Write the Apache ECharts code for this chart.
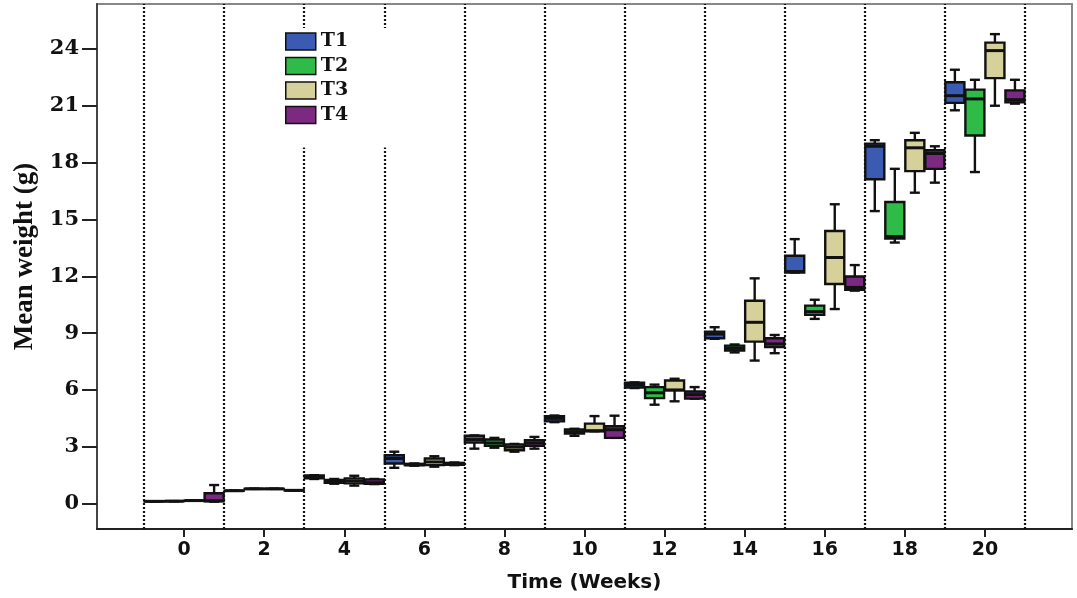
<!DOCTYPE html>
<html>
<head>
<meta charset="utf-8">
<script src="https://cdn.jsdelivr.net/npm/echarts@6/dist/echarts.min.js"></script>
<style>html,body{margin:0;padding:0;background:#fff}#c{width:1077px;height:598px}</style>
</head>
<body>
<div id="c"></div>
<script>
// Weeks (categories)
const weeks = [0, 2, 4, 6, 8, 10, 12, 14, 16, 18, 20];
const yTicks = [0, 3, 6, 9, 12, 15, 18, 21, 24];
const seriesNames = ['T1', 'T2', 'T3', 'T4'];
// Each entry: [min, Q1, median, Q3, max]
const T1 = [
  [0.12, 0.12, 0.12, 0.12, 0.12],
  [0.68, 0.68, 0.68, 0.68, 0.68],
  [1.30, 1.33, 1.40, 1.48, 1.50],
  [1.89, 2.12, 2.38, 2.55, 2.74],
  [2.90, 3.22, 3.38, 3.58, 3.60],
  [4.30, 4.34, 4.50, 4.62, 4.65],
  [6.10, 6.12, 6.25, 6.38, 6.40],
  [8.70, 8.73, 8.95, 9.08, 9.31],
  [12.20, 12.20, 12.25, 13.08, 13.96],
  [15.44, 17.12, 18.86, 19.00, 19.18],
  [20.76, 21.15, 21.53, 22.24, 22.90]
];
const T2 = [
  [0.13, 0.13, 0.13, 0.13, 0.13],
  [0.78, 0.78, 0.78, 0.78, 0.78],
  [1.05, 1.10, 1.15, 1.25, 1.30],
  [2.00, 2.03, 2.05, 2.10, 2.12],
  [2.95, 3.05, 3.20, 3.38, 3.47],
  [3.58, 3.70, 3.80, 3.92, 3.95],
  [5.22, 5.57, 5.85, 6.15, 6.28],
  [7.98, 8.08, 8.20, 8.34, 8.40],
  [9.75, 9.96, 10.13, 10.45, 10.76],
  [13.78, 13.99, 14.10, 15.92, 17.67],
  [17.50, 19.43, 21.36, 21.85, 22.37]
];
const T3 = [
  [0.16, 0.16, 0.16, 0.16, 0.16],
  [0.78, 0.78, 0.78, 0.78, 0.78],
  [0.95, 1.07, 1.20, 1.33, 1.47],
  [1.95, 2.03, 2.20, 2.38, 2.50],
  [2.74, 2.82, 2.98, 3.12, 3.15],
  [3.82, 3.82, 3.85, 4.22, 4.62],
  [5.40, 5.98, 6.00, 6.50, 6.59],
  [7.55, 8.55, 9.57, 10.71, 11.89],
  [10.27, 11.59, 12.99, 14.39, 15.80],
  [16.41, 17.55, 18.78, 19.18, 19.57],
  [21.00, 22.46, 23.91, 24.33, 24.78]
];
const T4 = [
  [0.10, 0.12, 0.15, 0.55, 0.98],
  [0.70, 0.70, 0.70, 0.70, 0.70],
  [1.03, 1.05, 1.10, 1.28, 1.30],
  [2.03, 2.05, 2.10, 2.15, 2.17],
  [2.90, 3.05, 3.20, 3.35, 3.52],
  [3.47, 3.47, 3.90, 4.08, 4.64],
  [5.54, 5.54, 5.75, 5.92, 6.15],
  [7.94, 8.26, 8.43, 8.73, 8.90],
  [11.24, 11.29, 11.41, 11.99, 12.59],
  [16.94, 17.67, 18.48, 18.65, 18.86],
  [21.11, 21.18, 21.32, 21.81, 22.37]
];
const seriesData = [T1, T2, T3, T4];
const colors = ['#3b5bb3', '#2fbb48', '#d6d09b', '#7b2981'];
const offsets = [-0.75, -0.25, 0.25, 0.75];

const boundaries = weeks.map(w => w - 1).concat([weeks[weeks.length - 1] + 1]);

function renderBox(params, api) {
  const x = api.value(0);
  const p = [1, 2, 3, 4, 5].map(i => api.coord([x, api.value(i)]));
  const cx = p[0][0];
  const hw = api.size([0.5, 0])[0] / 2 - 0.5;
  const yMin = p[0][1], yQ1 = p[1][1], yMed = p[2][1], yQ3 = p[3][1], yMax = p[4][1];
  const cap = 5;
  const ls = { stroke: '#111', lineWidth: 2.4 };
  return {
    type: 'group',
    children: [
      { type: 'line', shape: { x1: cx, y1: yMax, x2: cx, y2: yQ3 }, style: ls },
      { type: 'line', shape: { x1: cx, y1: yQ1, x2: cx, y2: yMin }, style: ls },
      { type: 'line', shape: { x1: cx - cap, y1: yMax, x2: cx + cap, y2: yMax }, style: ls },
      { type: 'line', shape: { x1: cx - cap, y1: yMin, x2: cx + cap, y2: yMin }, style: ls },
      { type: 'rect', shape: { x: cx - hw, y: yQ3, width: hw * 2, height: Math.max(yQ1 - yQ3, 0.1) },
        style: { fill: api.visual('color'), stroke: '#111', lineWidth: 2.4 } },
      { type: 'line', shape: { x1: cx - hw, y1: yMed, x2: cx + hw, y2: yMed }, style: { stroke: '#111', lineWidth: 3 } }
    ]
  };
}

const series = seriesNames.map((name, si) => {
  const s = {
    name: name,
    type: 'custom',
    renderItem: renderBox,
    itemStyle: { color: colors[si] },
    encode: { x: 0, y: [1, 2, 3, 4, 5] },
    data: weeks.map((w, i) => [w + offsets[si]].concat(seriesData[si][i])),
    z: 3
  };
  if (si === 0) {
    s.markLine = {
      silent: true,
      symbol: 'none',
      label: { show: false },
      lineStyle: { type: [2, 2], color: '#111', width: 2.2 },
      data: boundaries.map(b => ({ xAxis: b })),
      z: 1
    };
  }
  return s;
});

const chart = echarts.init(document.getElementById('c'));
chart.setOption({
  animation: false,
  backgroundColor: '#fff',
  grid: { left: 97, right: 5, top: 4, bottom: 67, show: true, borderColor: '#888', borderWidth: 2 },
  legend: {
    orient: 'vertical',
    left: 275, top: 28,
    padding: [4, 50, 23, 10],
    backgroundColor: '#fff',
    itemWidth: 30, itemHeight: 17, itemGap: 5.5,
    icon: 'rect',
    itemStyle: { borderColor: '#111', borderWidth: 1.5 },
    textStyle: { fontFamily: 'DejaVu Serif', fontWeight: 'bold', fontSize: 19, color: '#111' },
    data: seriesNames
  },
  xAxis: {
    type: 'value',
    min: -2.175, max: 22.175,
    name: 'Time (Weeks)',
    nameLocation: 'middle',
    nameGap: 44,
    nameTextStyle: { fontFamily: 'DejaVu Sans', fontWeight: 'bold', fontSize: 20, color: '#111' },
    axisLine: { onZero: false, lineStyle: { color: '#222', width: 2 } },
    axisTick: { show: true, length: 8, lineStyle: { color: '#222', width: 2 }, customValues: weeks },
    axisLabel: { customValues: weeks, margin: 12, fontFamily: 'DejaVu Sans', fontWeight: 'bold', fontSize: 19, color: '#111' },
    splitLine: { show: false }
  },
  yAxis: {
    type: 'value',
    min: -1.34, max: 26.37,
    name: 'Mean weight (g)',
    nameLocation: 'middle',
    nameGap: 52,
    nameRotate: 90,
    nameTextStyle: { fontFamily: 'Liberation Serif', fontWeight: 'bold', fontSize: 27, color: '#111', padding: [0, 0, 0, 20] },
    axisLine: { onZero: false, lineStyle: { color: '#444', width: 2 } },
    axisTick: { show: true, length: 15, lineStyle: { color: '#222', width: 2 }, customValues: yTicks },
    axisLabel: { customValues: yTicks, margin: 18, fontFamily: 'DejaVu Serif', fontWeight: 'bold', fontSize: 21, color: '#111' },
    splitLine: { show: false }
  },
  series: series
});
</script>
</body>
</html>
